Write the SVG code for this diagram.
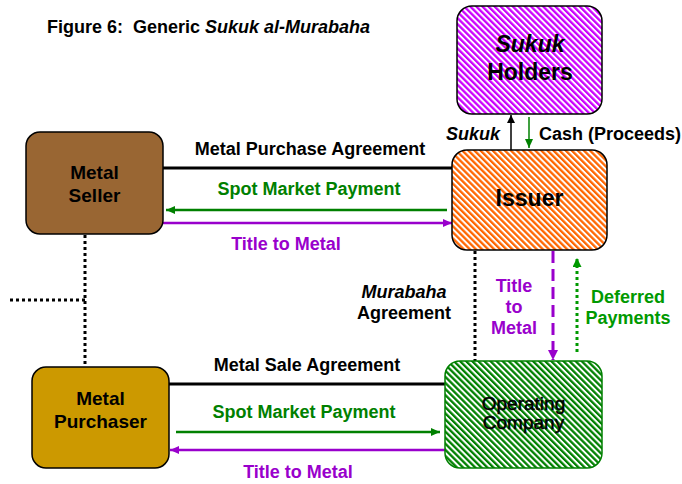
<svg xmlns="http://www.w3.org/2000/svg" width="682" height="484" viewBox="0 0 682 484">
  <style>
    text { font-family: "Liberation Sans", Arial, sans-serif; font-weight: bold; font-size: 18px; }
    .mid { text-anchor: middle; }
    .it { font-style: italic; }
    .big { font-size: 23px; }
    .node-label { font-size: 19px; }
    .plain { font-weight: normal; stroke: #000; stroke-width: 0.5; }
    .green { fill: #008000; }
    .purple { fill: #9900CC; }
    .lgreen { fill: #009900; }
    .box { stroke: #000; stroke-width: 1.5; }
    .conn { fill: none; }
    .agree { stroke: #000; stroke-width: 3; }
    .pay { stroke: #008000; stroke-width: 2.5; }
    .title { stroke: #9900CC; stroke-width: 2.5; }
    .dot { stroke: #000; stroke-width: 3; stroke-dasharray: 3 3; }
  </style>
  <defs>
    <pattern id="stripeMagenta" patternUnits="userSpaceOnUse" width="4.3" height="4.3" patternTransform="rotate(-45)">
      <rect width="4.3" height="4.3" fill="#fff"/>
      <rect width="2.3" height="4.3" fill="#CC00FF"/>
    </pattern>
    <pattern id="stripeOrange" patternUnits="userSpaceOnUse" width="4.3" height="4.3" patternTransform="rotate(-45)">
      <rect width="4.3" height="4.3" fill="#fff"/>
      <rect width="2.3" height="4.3" fill="#FF6600"/>
    </pattern>
    <pattern id="stripeGreen" patternUnits="userSpaceOnUse" width="4.3" height="4.3" patternTransform="rotate(-45)">
      <rect width="4.3" height="4.3" fill="#fff"/>
      <rect width="2.3" height="4.3" fill="#008000"/>
    </pattern>
    <marker id="arrBlack" markerUnits="userSpaceOnUse" markerWidth="10" markerHeight="10" refX="8" refY="4" orient="auto">
      <path d="M0,0 L8,4 L0,8 Z" fill="#000"/>
    </marker>
    <marker id="arrGreen" markerUnits="userSpaceOnUse" markerWidth="12" markerHeight="10" refX="9" refY="4" orient="auto">
      <path d="M0,0 L9,4 L0,8 Z" fill="#008000"/>
    </marker>
    <marker id="arrLGreen" markerUnits="userSpaceOnUse" markerWidth="12" markerHeight="10" refX="9" refY="4.5" orient="auto">
      <path d="M0,0 L9,4.5 L0,9 Z" fill="#009900"/>
    </marker>
    <marker id="arrPurple" markerUnits="userSpaceOnUse" markerWidth="12" markerHeight="10" refX="9" refY="4" orient="auto">
      <path d="M0,0 L9,4 L0,8 Z" fill="#9900CC"/>
    </marker>
    <marker id="arrPurpleBig" markerUnits="userSpaceOnUse" markerWidth="14" markerHeight="12" refX="10" refY="5" orient="auto">
      <path d="M0,0 L10,5 L0,10 Z" fill="#9900CC"/>
    </marker>
  </defs>

  <rect width="682" height="484" fill="#fff"/>

  <text x="47" y="33" style="white-space:pre">Figure 6:  Generic <tspan class="it">Sukuk al-Murabaha</tspan></text>

  <!-- connectors -->
  <g id="connectors">
    <path class="conn agree" d="M163,168 H452"/>
    <path class="conn pay" d="M447,210 H166" marker-end="url(#arrGreen)"/>
    <path class="conn title" d="M163,223 H452" marker-end="url(#arrPurple)"/>
    <path class="conn" d="M511,150 V115" stroke="#000" stroke-width="1.5" marker-end="url(#arrBlack)"/>
    <path class="conn" d="M529,117 V148" stroke="#008000" stroke-width="1.5" marker-end="url(#arrGreen)"/>
    <path class="conn dot" d="M85,235 V367"/>
    <path class="conn dot" d="M10,300 H85"/>
    <path class="conn dot" d="M475,251 V361"/>
    <path class="conn" d="M553,251 V360" stroke="#9900CC" stroke-width="3" stroke-dasharray="12 6" marker-end="url(#arrPurpleBig)"/>
    <path class="conn" d="M577,352 V258" stroke="#009900" stroke-width="3" stroke-dasharray="3 3" marker-end="url(#arrLGreen)"/>
    <path class="conn agree" d="M169,384 H445"/>
    <path class="conn pay" d="M176,432 H440" marker-end="url(#arrGreen)"/>
    <path class="conn title" d="M445,450 H170" marker-end="url(#arrPurple)"/>
  </g>

  <!-- connector labels -->
  <g id="connector-labels">
    <text class="mid" x="310" y="155">Metal Purchase Agreement</text>
    <text class="mid green" x="309" y="195">Spot Market Payment</text>
    <text class="mid purple" x="286" y="250">Title to Metal</text>
    <text class="it" x="500" y="140" text-anchor="end">Sukuk</text>
    <text x="539" y="140">Cash (Proceeds)</text>
    <text class="mid" x="404" y="298"><tspan class="it">Murabaha</tspan><tspan x="404" dy="21">Agreement</tspan></text>
    <text class="mid purple" x="514" y="292">Title<tspan x="514" dy="21">to</tspan><tspan x="514" dy="21">Metal</tspan></text>
    <text class="mid lgreen" x="628" y="303">Deferred<tspan x="628" dy="21">Payments</tspan></text>
    <text class="mid" x="307" y="371">Metal Sale Agreement</text>
    <text class="mid green" x="304" y="418">Spot Market Payment</text>
    <text class="mid purple" x="298" y="478">Title to Metal</text>
  </g>

  <g id="sukuk-holders">
    <rect class="box" x="457" y="6" width="145" height="108" rx="15" fill="url(#stripeMagenta)"/>
    <text class="mid big it" x="530" y="52">Sukuk</text>
    <text class="mid big" x="530" y="80">Holders</text>
  </g>

  <g id="issuer">
    <rect class="box" x="452" y="150" width="155" height="100" rx="15" fill="url(#stripeOrange)"/>
    <text class="mid big" x="529.5" y="206">Issuer</text>
  </g>

  <g id="metal-seller">
    <rect class="box" x="26" y="132" width="137" height="102" rx="14" fill="#996633"/>
    <text class="mid node-label" x="94.5" y="179">Metal</text>
    <text class="mid node-label" x="94.5" y="202">Seller</text>
  </g>

  <g id="metal-purchaser">
    <rect class="box" x="32" y="367" width="137" height="101" rx="14" fill="#CC9900"/>
    <text class="mid node-label" x="100.5" y="405">Metal</text>
    <text class="mid node-label" x="100.5" y="428">Purchaser</text>
  </g>

  <g id="operating-company">
    <rect x="445" y="361" width="157" height="107" rx="15" fill="url(#stripeGreen)" stroke="#008000" stroke-width="1.5"/>
    <text class="mid node-label plain" x="523.5" y="410">Operating</text>
    <text class="mid node-label plain" x="523.5" y="429">Company</text>
  </g>
</svg>
